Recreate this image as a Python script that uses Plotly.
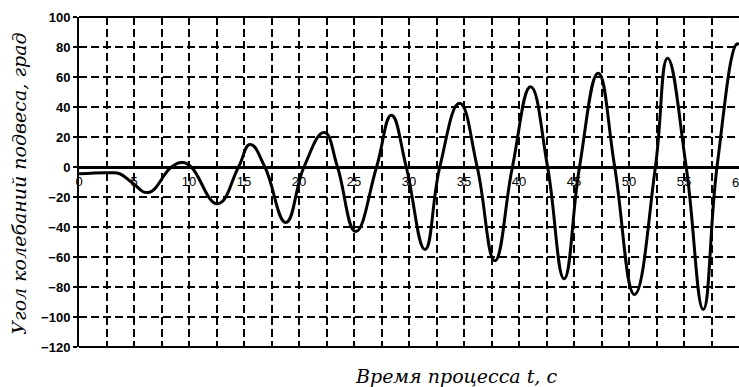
import plotly.graph_objects as go

# Data (time, s  ->  swing angle, deg):
# start, turning points and zero crossings of the oscillation
time_s = [0, 2.8, 3.7, 4.9, 6.3, 8.4, 9.4, 10.2, 12.6, 14.5, 15.55, 16.9,
          18.8, 20.45, 22.3, 23.5, 25.15, 27.05, 28.4, 29.75, 31.45, 32.8,
          34.6, 36.2, 37.8, 39.4, 41.05, 42.6, 44.1, 45.5, 47.2, 48.7,
          50.5, 52.4, 53.5, 55.2, 56.75, 58.0, 59.8, 60]
angle_deg = [-4.5, -3.8, -4.5, -10.9, -17, 0, 3, 0, -24.5, 0, 15, 0,
             -37, 0, 23, 0, -43, 0, 34.5, 0, -55, 0,
             42.5, 0, -62.5, 0, 53.5, 0, -74.5, 0, 62.5, 0,
             -85, 0, 72.5, 0, -95, 0, 82, 81.5]

x_grid_vals = [0, 2.5, 5, 7.5, 10, 12.5, 15, 17.5, 20, 22.5, 25, 27.5, 30, 32.5,
               35, 37.5, 40, 42.5, 45, 47.5, 50, 52.5, 55, 57.5, 60]
x_tick_text = ["0", "", "5", "", "10", "", "15", "", "20", "", "25", "", "30", "",
               "35", "", "40", "", "45", "", "50", "", "55", "", ""]
last_x_tick = 60
last_x_tick_text = "60"
y_tick_vals = [100, 80, 60, 40, 20, 0, -20, -40, -60, -80, -100, -120]

x_title = "Время процесса t, с"
y_title = "Угол колебаний подвеса, град"

Y_MIN, Y_MAX = -120, 100

fig = go.Figure()
fig.add_trace(go.Scatter(
    x=time_s, y=angle_deg, mode="lines",
    line=dict(color="black", width=3, shape="spline", smoothing=1.3),
    hoverinfo="skip", showlegend=False,
))

title_font = dict(family="DejaVu Serif", size=19, color="black", style="italic")
xtick_font = dict(family="Liberation Sans", size=13, color="black")

fig.update_layout(
    width=739, height=387,
    margin=dict(l=79, r=0, t=17, b=40),
    paper_bgcolor="white", plot_bgcolor="white",
    showlegend=False,
    xaxis=dict(
        range=[0, 60], tickvals=x_grid_vals, ticktext=x_tick_text,
        showgrid=True, gridcolor="black", gridwidth=1.8, griddash="8px,4px",
        zeroline=False, showline=False, ticks="",
        anchor="free", position=(0 - Y_MIN) / (Y_MAX - Y_MIN),
        tickfont=xtick_font,
        ticklabelstandoff=5, automargin=False,
    ),
    yaxis=dict(
        range=[Y_MIN, Y_MAX], tickvals=y_tick_vals,
        showgrid=True, gridcolor="black", gridwidth=1.8, griddash="8px,4px",
        zeroline=True, zerolinecolor="black", zerolinewidth=2.5,
        showline=True, linecolor="black", linewidth=2,
        ticks="outside", ticklen=4, tickcolor="black", tickwidth=1.8,
        tickfont=dict(family="Liberation Sans", size=13, color="black", weight="bold"),
        automargin=False,
    ),
    shapes=[
        dict(type="line", xref="paper", yref="paper", x0=0, x1=1, y0=1, y1=1,
             line=dict(color="black", width=2)),
        dict(type="line", xref="paper", yref="paper", x0=0, x1=1, y0=0, y1=0,
             line=dict(color="black", width=2)),
    ],
    annotations=[
        dict(text=last_x_tick_text, xref="x", yref="y", x=last_x_tick, y=0,
             yshift=-15, xanchor="center", yanchor="middle", showarrow=False,
             font=xtick_font),
        dict(text=x_title, xref="paper", yref="paper", x=0.571, y=0, yshift=-29,
             xanchor="center", yanchor="middle", showarrow=False, font=title_font),
        dict(text=y_title, xref="paper", yref="paper", x=0, xshift=-60, y=0.495,
             xanchor="center", yanchor="middle", textangle=-90, showarrow=False,
             font=title_font),
    ],
)

fig.write_html("out.html", config={"displayModeBar": False},
               post_script="document.body.style.margin='0px';")
